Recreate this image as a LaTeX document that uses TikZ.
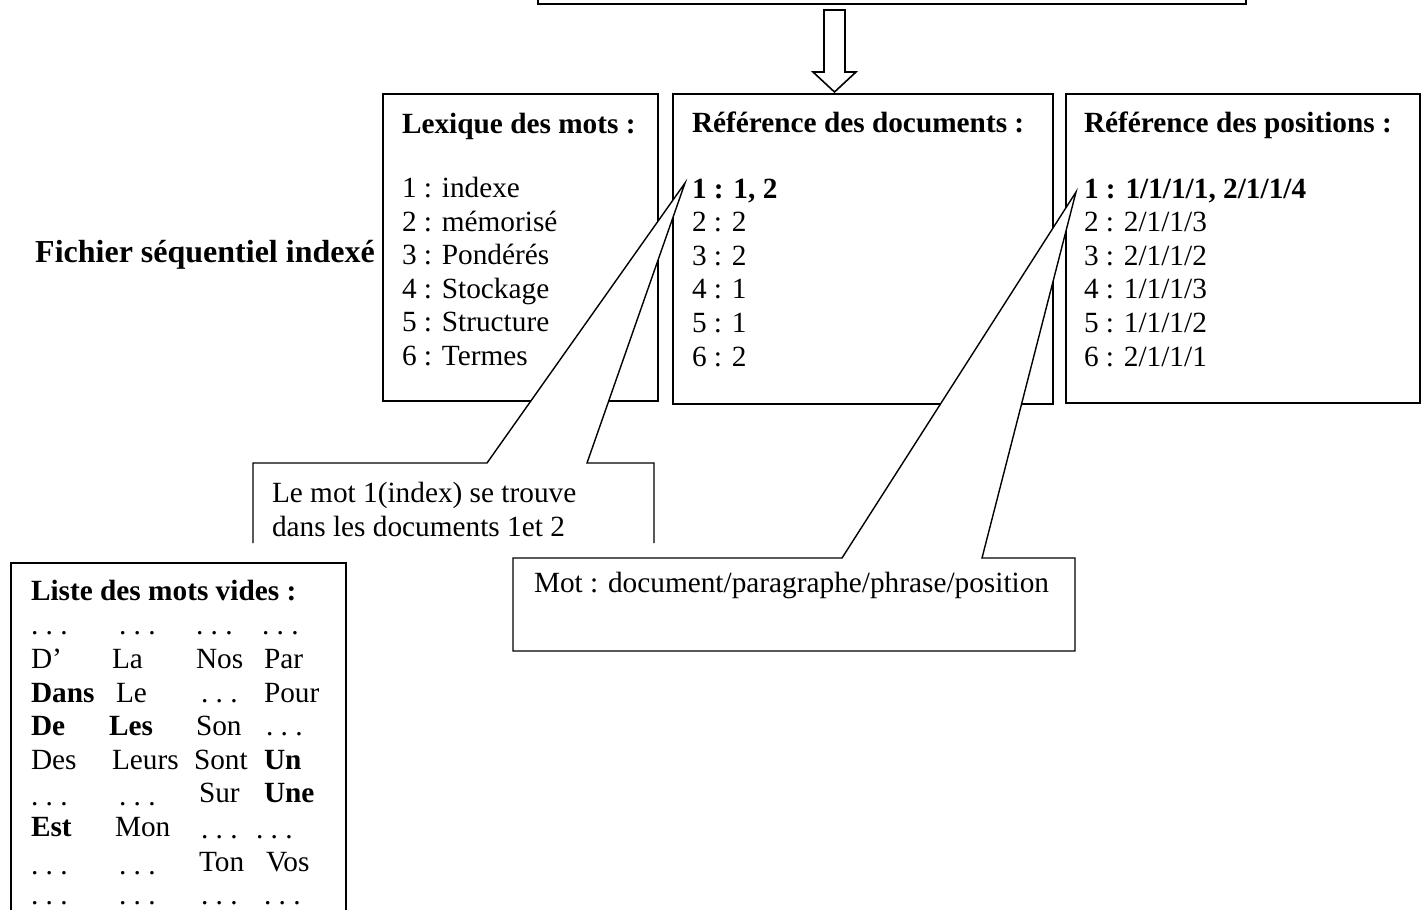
\documentclass[tikz,border=0pt]{standalone}
\usepackage{fontspec}
\setmainfont{Liberation Serif}
\newcommand{\ddd}{.\hspace{0.25em}.\hspace{0.25em}.}
\tikzset{
  ln/.style={draw=black, line width=1.6pt, line join=miter},
  frame/.style={ln, fill=white, inner sep=0pt, anchor=north west},
  callout/.style={draw=black, line width=1.4pt, fill=white, line join=miter},
  txt/.style={anchor=base west, inner sep=0pt, outer sep=0pt, font=\fontsize{29.3}{33.6}\selectfont},
  btxt/.style={anchor=base west, inner sep=0pt, outer sep=0pt, font=\fontsize{29.3}{33.6}\selectfont\bfseries},
}
\newcommand{\cell}[4]{\node[txt] (#1) at (#2,#3) {#4};}
\begin{document}
\begin{tikzpicture}[x=1pt,y=-1pt]
\useasboundingbox (0,0) rectangle (1424,910);
\clip (0,0) rectangle (1424,910);

% top box (cut by the page edge)
\coordinate (tl) at (538,-10);
\coordinate (tr) at (1246,-10);
\draw[ln] (tl) -- (538,4) -- (1246,4) -- (tr);

% three boxes
\node[frame, minimum width=275pt, minimum height=307pt] (lex) at (382,93) {};
\node[frame, minimum width=380pt, minimum height=310pt] (doc) at (672,93) {};
\node[frame, minimum width=354pt, minimum height=309pt] (pos) at (1065,93) {};

% block arrow
\coordinate (atop) at (834.5,10);
\coordinate (atip) at (834.5,92);
\draw[ln, fill=white] (atop) ++(-10.5,0) -- ++(21,0) -- ++(0,62) -- ++(11,0) -- (atip) -- ++(-21.5,-20) -- ++(11,0) -- cycle;

% list box (open at the bottom)
\draw[ln] (11,915) -- (11,563) -- (346,563) -- (346,915);

% callouts
\coordinate (tip1) at (685,183);
\coordinate (tip2) at (1076,192);
\path[callout, draw=none] (253,541) -- (253,463) -- (487,463) -- (tip1) -- (587,463) -- (654,463) -- (654,541) -- cycle;
\draw[callout, fill=none] (253,543) -- (253,463) -- (487,463) -- (tip1) -- (587,463) -- (654,463) -- (654,543);
\draw[callout] (513,558) -- (842,558) -- (tip2) -- (982,558) -- (1075,558) -- (1075,651) -- (513,651) -- cycle;

% side title
\node[anchor=base west, inner sep=0pt, font=\fontsize{32}{38}\selectfont\bfseries] (fichier) at (35,262) {Fichier séquentiel indexé};

% Lexique
\node[btxt] (lext) at (402,133) {Lexique des mots :};
\foreach \i/\t in {1/indexe,2/mémorisé,3/Pondérés,4/Stockage,5/Structure,6/Termes}
  \node[txt] (lex\i) at (402,{197.5+33.5*(\i-1)}) {\i{} : \t};

% Documents
\node[btxt] (doct) at (692,132) {Référence des documents :};
\node[btxt] (doc1) at (692,198) {1 : 1, 2};
\foreach \i/\t in {2/2,3/2,4/1,5/1,6/2}
  \node[txt] (doc\i) at (692,{198+33.6*(\i-1)}) {\i{} : \t};

% Positions
\node[btxt] (post) at (1084,132) {Référence des positions :};
\node[btxt] (pos1) at (1084,198) {1 : 1/1/1/1, 2/1/1/4};
\foreach \i/\t in {2/{2/1/1/3},3/{2/1/1/2},4/{1/1/1/3},5/{1/1/1/2},6/{2/1/1/1}}
  \node[txt] (pos\i) at (1084,{198+33.6*(\i-1)}) {\i{} : \t};

% callout texts
\begin{scope}
  \clip (253,463) rectangle (654,541);
  \node[txt] (c1a) at (272,502) {Le mot 1(index) se trouve};
  \node[txt] (c1b) at (272,536) {dans les documents 1et 2};
\end{scope}
\node[txt] (c2a) at (534,592) {Mot : document/paragraphe/phrase/position};

% list of stop words
\node[btxt] (lt) at (31,600) {Liste des mots vides :};
\cell{a1}{31}{634}{\ddd}\cell{b1}{119}{634}{\ddd}\cell{c1}{196}{634}{\ddd}\cell{d1}{262}{634}{\ddd}
\cell{a2}{31}{668}{D’}\cell{b2}{112}{668}{La}\cell{c2}{196}{668}{Nos}\cell{d2}{264}{668}{Par}
\cell{a3}{31}{702}{\textbf{Dans}}\cell{b3}{116}{702}{Le}\cell{c3}{201}{702}{\ddd}\cell{d3}{264}{702}{Pour}
\cell{a4}{31}{735}{\textbf{De}}\cell{b4}{109}{735}{\textbf{Les}}\cell{c4}{196}{735}{Son}\cell{d4}{266}{735}{\ddd}
\cell{a5}{31}{769}{Des}\cell{b5}{112}{769}{Leurs}\cell{c5}{194}{769}{Sont}\cell{d5}{264}{769}{\textbf{Un}}
\cell{a6}{31}{805}{\ddd}\cell{b6}{119}{805}{\ddd}\cell{c6}{199}{802}{Sur}\cell{d6}{264}{802}{\textbf{Une}}
\cell{a7}{31}{836}{\textbf{Est}}\cell{b7}{115}{836}{Mon}\cell{c7}{201}{838}{\ddd}\cell{d7}{256}{838}{\ddd}
\cell{a8}{31}{874}{\ddd}\cell{b8}{119}{874}{\ddd}\cell{c8}{199}{871}{Ton}\cell{d8}{266}{871}{Vos}
\cell{a9}{31}{904}{\ddd}\cell{b9}{119}{904}{\ddd}\cell{c9}{201}{904}{\ddd}\cell{d9}{264}{904}{\ddd}
\end{tikzpicture}
\end{document}
